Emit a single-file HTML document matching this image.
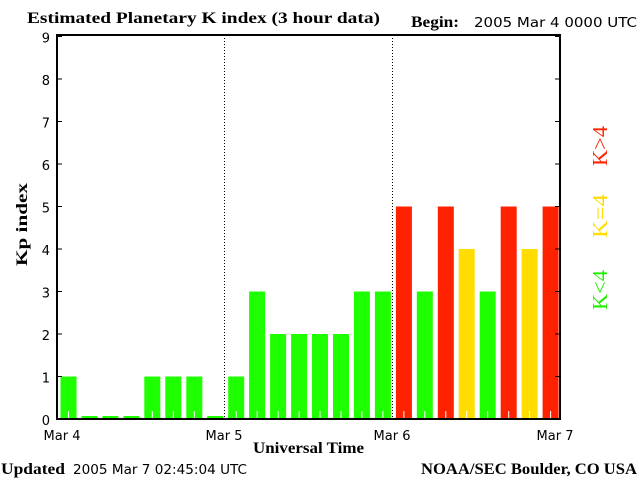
<!DOCTYPE html>
<html><head><meta charset="utf-8"><style>
html,body{margin:0;padding:0;background:#fff;}
svg{display:block;}
.s{font-family:"DejaVu Sans","Liberation Sans",sans-serif;font-size:13px;}
.b{font-family:"Liberation Serif",serif;font-weight:bold;font-size:16px;}
</style></head><body>
<svg width="640" height="480" xmlns="http://www.w3.org/2000/svg">
<rect width="640" height="480" fill="#fff"/>
<text x="27" y="23" class="b" textLength="353" lengthAdjust="spacingAndGlyphs">Estimated Planetary K index (3 hour data)</text>
<text x="411" y="27" class="b" textLength="48" lengthAdjust="spacingAndGlyphs">Begin:</text>
<text x="474" y="27" class="s" textLength="163" lengthAdjust="spacingAndGlyphs">2005 Mar 4 0000 UTC</text>
<g id="bars"></g>
<line x1="224.5" y1="35" x2="224.5" y2="419" stroke="#000" stroke-dasharray="1,2"/>
<line x1="392.5" y1="35" x2="392.5" y2="419" stroke="#000" stroke-dasharray="1,2"/>
<rect x="57" y="35" width="503" height="384" fill="none" stroke="#000" stroke-width="2"/>
<g id="ticks"></g>
<text x="62" y="440" class="s" text-anchor="middle">Mar 4</text>
<text x="224" y="440" class="s" text-anchor="middle">Mar 5</text>
<text x="392" y="440" class="s" text-anchor="middle">Mar 6</text>
<text x="555" y="440" class="s" text-anchor="middle">Mar 7</text>
<text x="253" y="453" class="b" textLength="111" lengthAdjust="spacingAndGlyphs">Universal Time</text>
<text transform="translate(27,266) rotate(-90)" class="b" textLength="83" lengthAdjust="spacingAndGlyphs">Kp index</text>
<text transform="translate(607,310) rotate(-90)" class="b" style="font-weight:normal;font-size:21px" fill="#22ee00" textLength="40" lengthAdjust="spacingAndGlyphs">K&lt;4</text>
<text transform="translate(607,238) rotate(-90)" class="b" style="font-weight:normal;font-size:21px" fill="#ffdd00" textLength="44" lengthAdjust="spacingAndGlyphs">K=4</text>
<text transform="translate(607,166) rotate(-90)" class="b" style="font-weight:normal;font-size:21px" fill="#ff2200" textLength="40" lengthAdjust="spacingAndGlyphs">K&gt;4</text>
<text x="1" y="474" class="b" textLength="64" lengthAdjust="spacingAndGlyphs">Updated</text>
<text x="73" y="474" class="s" textLength="174" lengthAdjust="spacingAndGlyphs">2005 Mar  7 02:45:04 UTC</text>
<text x="421" y="474" class="b" textLength="216" lengthAdjust="spacingAndGlyphs">NOAA/SEC Boulder, CO USA</text>
</svg>
<script>
var v=[1,0,0,0,1,1,1,0,1,3,2,2,2,2,3,3,5,3,5,4,3,5,4,5];
var g=document.getElementById('bars'),s='';
for(var i=0;i<24;i++){var x=57+i*20.96+3.5,k=v[i];var h=k==0?3:k*42.5;
var c=k<4?'#1eff00':(k==4?'#ffdd00':'#ff2200');
s+='<rect x="'+x.toFixed(1)+'" y="'+(419-h)+'" width="16" height="'+h+'" fill="'+c+'"/>';
if(k>0)s+='<line x1="'+(x+8).toFixed(1)+'" y1="411" x2="'+(x+8).toFixed(1)+'" y2="419" stroke="#fff"/>';}
g.innerHTML=s;
var t=document.getElementById('ticks'),u='';
for(var k=0;k<=9;k++){var y=419-k*42.5;
u+='<line x1="57" y1="'+y+'" x2="62" y2="'+y+'" stroke="#000"/><line x1="555" y1="'+y+'" x2="560" y2="'+y+'" stroke="#000"/>';
u+='<text x="50" y="'+(y+6)+'" class="s" text-anchor="end">'+k+'</text>';}
t.innerHTML=u;
</script>
</body></html>
